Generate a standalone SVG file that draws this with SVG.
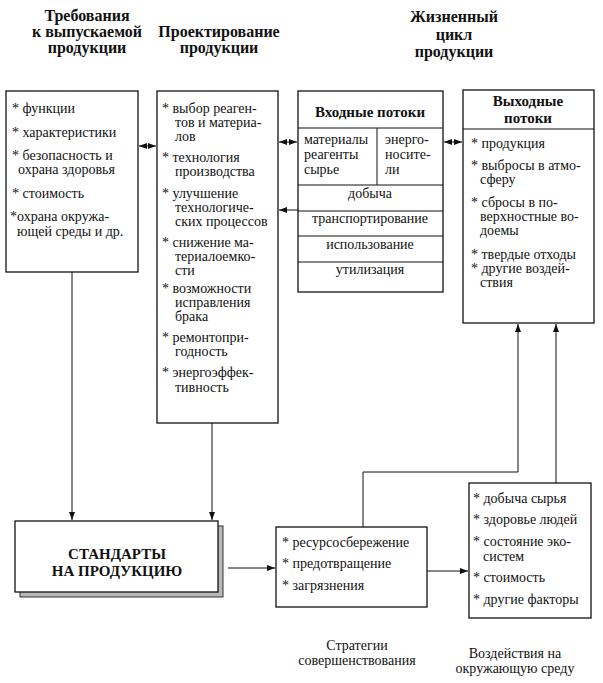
<svg xmlns="http://www.w3.org/2000/svg" width="603" height="683" viewBox="0 0 603 683" font-family="'Liberation Serif', Tinos, 'Times New Roman', 'Noto Serif', 'DejaVu Serif', serif">
<style>
text{font-family:'Liberation Serif',Tinos,'Times New Roman','Noto Serif','DejaVu Serif',serif;fill:#111}
.h{font-size:16px;font-weight:bold;text-anchor:middle}
.b{font-size:14px}
.c{text-anchor:middle}
.bb{font-size:15px;font-weight:bold;text-anchor:middle}
.box{fill:#fff;stroke:#111;stroke-width:1.3}
.ln{fill:none;stroke:#111;stroke-width:1}
.con{fill:none;stroke:#111;stroke-width:1}
</style>
<defs>
<marker id="ah" markerUnits="userSpaceOnUse" markerWidth="9" markerHeight="7" refX="8" refY="3" orient="auto-start-reverse">
<path d="M0,0 L8,3 L0,6 z" fill="#111"/>
</marker>
</defs>
<rect width="603" height="683" fill="#fff"/>

<g id="headers">
<text class="h" x="87" y="21">Требования</text>
<text class="h" x="87" y="37">к выпускаемой</text>
<text class="h" x="87" y="53">продукции</text>
<text class="h" x="219" y="37">Проектирование</text>
<text class="h" x="219" y="53">продукции</text>
<text class="h" x="454" y="22">Жизненный</text>
<text class="h" x="454" y="40">цикл</text>
<text class="h" x="454" y="57">продукции</text>
</g>

<g id="requirements">
<rect class="box" x="6" y="91" width="132" height="181"/>
<text class="b" x="12" y="113">* функции</text>
<text class="b" x="12" y="137">* характеристики</text>
<text class="b" x="12" y="160">* безопасность и</text>
<text class="b" x="18" y="174">охрана здоровья</text>
<text class="b" x="12" y="198">* стоимость</text>
<text class="b" x="10" y="221">*охрана окружа-</text>
<text class="b" x="17" y="236">ющей среды и др.</text>
</g>

<g id="design">
<rect class="box" x="157" y="91" width="121" height="332"/>
<text class="b" x="162" y="113">* выбор реаген-</text>
<text class="b" x="175" y="127">тов и материа-</text>
<text class="b" x="175" y="141">лов</text>
<text class="b" x="162" y="162">* технология</text>
<text class="b" x="175" y="176">производства</text>
<text class="b" x="162" y="198">* улучшение</text>
<text class="b" x="175" y="212">технологиче-</text>
<text class="b" x="175" y="226">ских процессов</text>
<text class="b" x="162" y="247">* снижение ма-</text>
<text class="b" x="175" y="261">териалоемко-</text>
<text class="b" x="175" y="275">сти</text>
<text class="b" x="162" y="293">* возможности</text>
<text class="b" x="175" y="307">исправления</text>
<text class="b" x="175" y="321">брака</text>
<text class="b" x="162" y="342">* ремонтопри-</text>
<text class="b" x="175" y="356">годность</text>
<text class="b" x="162" y="377">* энергоэффек-</text>
<text class="b" x="175" y="392">тивность</text>
</g>

<g id="inputs">
<rect class="box" x="298" y="91" width="145" height="201"/>
<text class="bb" x="370" y="117">Входные потоки</text>
<line class="ln" x1="298" y1="128" x2="443" y2="128"/>
<line class="ln" x1="377" y1="128" x2="377" y2="185"/>
<line class="ln" x1="298" y1="185" x2="443" y2="185"/>
<line class="ln" x1="298" y1="211" x2="443" y2="211"/>
<line class="ln" x1="298" y1="236" x2="443" y2="236"/>
<line class="ln" x1="298" y1="262" x2="443" y2="262"/>
<text class="b" x="304" y="144">материалы</text>
<text class="b" x="304" y="159">реагенты</text>
<text class="b" x="304" y="174">сырье</text>
<text class="b" x="385" y="144">энерго-</text>
<text class="b" x="385" y="159">носите-</text>
<text class="b" x="385" y="174">ли</text>
<text class="b c" x="370" y="198">добыча</text>
<text class="b c" x="370" y="223">транспортирование</text>
<text class="b c" x="370" y="249">использование</text>
<text class="b c" x="370" y="274">утилизация</text>
</g>

<g id="outputs">
<rect class="box" x="463" y="90" width="131" height="233"/>
<text class="bb" x="528" y="106">Выходные</text>
<text class="bb" x="528" y="123">потоки</text>
<line class="ln" x1="463" y1="129" x2="594" y2="129"/>
<text class="b" x="471" y="148">* продукция</text>
<text class="b" x="471" y="170">* выбросы в атмо-</text>
<text class="b" x="480" y="184">сферу</text>
<text class="b" x="471" y="207">* сбросы в по-</text>
<text class="b" x="480" y="221">верхностные во-</text>
<text class="b" x="480" y="235">доемы</text>
<text class="b" x="471" y="259">* твердые отходы</text>
<text class="b" x="471" y="273">* другие воздей-</text>
<text class="b" x="480" y="287">ствия</text>
</g>

<g id="standards">
<rect x="20" y="526" width="203" height="71" fill="#b8b8b8" stroke="#333" stroke-width="1"/>
<rect class="box" x="15" y="521" width="203" height="71"/>
<text class="bb" x="117" y="559">СТАНДАРТЫ</text>
<text class="bb" x="117" y="576">НА ПРОДУКЦИЮ</text>
</g>

<g id="strategies">
<rect class="box" x="276" y="527" width="151" height="80"/>
<text class="b" x="282" y="547">* ресурсосбережение</text>
<text class="b" x="282" y="568">* предотвращение</text>
<text class="b" x="282" y="590">* загрязнения</text>
</g>

<g id="impacts">
<rect class="box" x="469" y="483" width="122" height="135"/>
<text class="b" x="473" y="503">* добыча сырья</text>
<text class="b" x="473" y="524">* здоровье людей</text>
<text class="b" x="473" y="546">* состояние эко-</text>
<text class="b" x="483" y="561">систем</text>
<text class="b" x="473" y="582">* стоимость</text>
<text class="b" x="473" y="604">* другие факторы</text>
</g>

<g id="labels">
<text class="b c" x="357" y="650">Стратегии</text>
<text class="b c" x="357" y="665">совершенствования</text>
<text class="b c" x="515" y="658">Воздействия на</text>
<text class="b c" x="515" y="673">окружающую среду</text>
</g>

<g id="connectors">
<line class="con" x1="139" y1="146" x2="156" y2="146" marker-start="url(#ah)" marker-end="url(#ah)"/>
<line class="con" x1="279" y1="142" x2="297" y2="142" marker-start="url(#ah)" marker-end="url(#ah)"/>
<line class="con" x1="298" y1="210" x2="279" y2="210" marker-end="url(#ah)"/>
<line class="con" x1="444" y1="142" x2="462" y2="142" marker-start="url(#ah)" marker-end="url(#ah)"/>
<line class="con" x1="72" y1="272" x2="72" y2="520" marker-end="url(#ah)"/>
<line class="con" x1="212" y1="423" x2="212" y2="520" marker-end="url(#ah)"/>
<line class="con" x1="228" y1="568" x2="275" y2="568" marker-end="url(#ah)"/>
<line class="con" x1="427" y1="571" x2="468" y2="571" marker-end="url(#ah)"/>
<path class="con" d="M363,527 V472 H518 V324" marker-end="url(#ah)"/>
<line class="con" x1="556" y1="483" x2="556" y2="324" marker-end="url(#ah)"/>
</g>
</svg>
